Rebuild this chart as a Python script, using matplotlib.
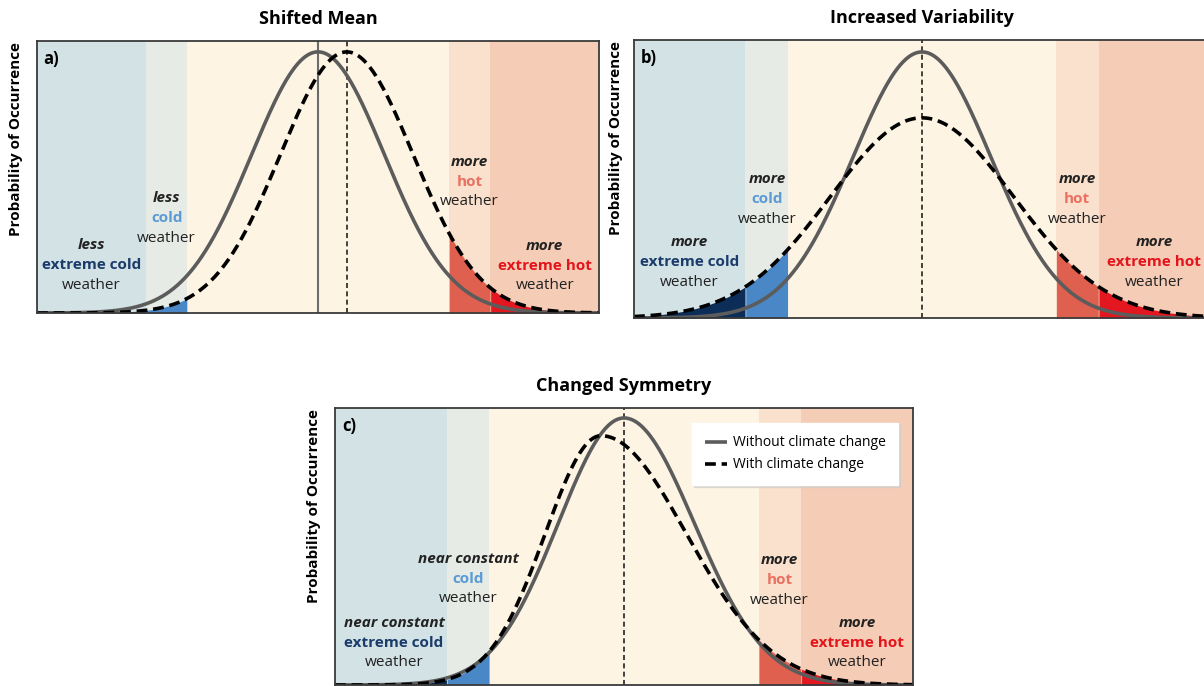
import numpy as np
import matplotlib
matplotlib.use("Agg")
import matplotlib.pyplot as plt
from matplotlib import font_manager

# pick a narrow font if the box has one
names = {f.name for f in font_manager.fontManager.ttflist}
if "Liberation Sans Narrow" in names:
    plt.rcParams['font.family'] = ['Liberation Sans Narrow', 'DejaVu Sans']
else:
    plt.rcParams['font.family'] = ['Open Sans', 'DejaVu Sans']

W, H = 1204, 686

# ---- data (x in temperature units, peak as fraction of panel height) ----
panel_titles = ["Shifted Mean", "Increased Variability", "Changed Symmetry"]
panel_letters = ["a)", "b)", "c)"]
x_limit = 4.4
band_edges = [-x_limit, -2.7, -2.05, 2.05, 2.7, x_limit]
band_colors = ["#d3e2e5", "#e6ebe6", "#fdf4e4", "#f9e1cd", "#f5ccb5"]
fill_colors = ["#0c2d57", "#4a87c6", None, "#e0604f", "#e2171f"]

# each curve: mode, sigma left, sigma right, peak height
without_a = (0.0, 1.04, 1.04, 0.96)
with_a = (0.45, 1.04, 1.04, 0.96)
without_b = (0.0, 1.05, 1.05, 0.957)
with_b = (0.0, 1.4, 1.4, 0.72)
without_c = (0.0, 1.0, 1.07, 0.964)
with_c = (-0.35, 0.85, 1.3, 0.90)

# vertical reference lines: (x, style)
vlines_a = [(0.0, 'solid'), (0.45, 'dashed')]
vlines_b = [(0.0, 'dashed')]
vlines_c = [(0.0, 'dashed')]

# labels: (band center x, colored-line y frac, top word, key word, key color)
labels_a = [(-3.55, 0.176, "less", "extreme cold", "#1b3c6b"),
            (-2.37, 0.349, "less", "cold", "#5b9bd5"),
            (2.37, 0.482, "more", "hot", "#ea7061"),
            (3.55, 0.173, "more", "extreme hot", "#e3141c")]
labels_b = [(-3.55, 0.201, "more", "extreme cold", "#1b3c6b"),
            (-2.37, 0.428, "more", "cold", "#5b9bd5"),
            (2.37, 0.428, "more", "hot", "#ea7061"),
            (3.55, 0.201, "more", "extreme hot", "#e3141c")]
labels_c = [(-3.5, 0.152, "near constant", "extreme cold", "#1b3c6b"),
            (-2.37, 0.383, "near constant", "cold", "#5b9bd5"),
            (2.37, 0.379, "more", "hot", "#ea7061"),
            (3.55, 0.152, "more", "extreme hot", "#e3141c")]


def curve(x, p):
    mode, sl, sr, peak = p
    s = np.where(x < mode, sl, sr)
    return peak * np.exp(-(x - mode) ** 2 / (2 * s ** 2))


def px_axes(left, top, right, bottom):
    return fig.add_axes([left / W, 1 - bottom / H, (right - left) / W, (bottom - top) / H])


fig = plt.figure(figsize=(W / 100, H / 100), dpi=100)

panels = [
    (px_axes(37, 41, 599, 313), without_a, with_a, vlines_a, labels_a),
    (px_axes(634, 40, 1210, 318), without_b, with_b, vlines_b, labels_b),
    (px_axes(335, 408, 913, 685), without_c, with_c, vlines_c, labels_c),
]

x = np.linspace(-x_limit, x_limit, 800)

for i, (ax, p0, p1, vl, labs) in enumerate(panels):
    ax.set_xlim(-x_limit, x_limit)
    ax.set_ylim(0, 1)
    for j in range(5):
        ax.axvspan(band_edges[j], band_edges[j + 1], color=band_colors[j], lw=0, zorder=0)
        if fill_colors[j]:
            m = (x >= band_edges[j]) & (x <= band_edges[j + 1])
            ax.fill_between(x[m], 0, curve(x[m], p1), color=fill_colors[j], lw=0, zorder=1)
    for xv, st in vl:
        if st == 'solid':
            ax.axvline(xv, color="#6b6b6b", lw=1.5, zorder=2)
        else:
            ax.axvline(xv, color="#222222", lw=1.2, ls=(0, (3, 2)), zorder=2)
    ax.plot(x, curve(x, p0), color="#5c5c5c", lw=2.6, zorder=3, solid_capstyle='butt',
            label="Without climate change")
    ax.plot(x, curve(x, p1), color="black", lw=2.6, ls=(0, (3, 1.6)), zorder=4,
            label="With climate change")
    for spine in ax.spines.values():
        spine.set_color("#3a3a3a")
        spine.set_linewidth(1.3)
        spine.set_zorder(5)
    ax.set_xticks([])
    ax.set_yticks([])
    ax.set_title(panel_titles[i], fontsize=13, fontweight='bold', pad=12)
    ax.text(0.012, 0.968, panel_letters[i], transform=ax.transAxes, fontsize=12,
            fontweight='bold', va='top', ha='left', zorder=6)
    ax.text(-0.037 if i != 1 else -0.031, 0.995, "Probability of Occurrence",
            transform=ax.transAxes, rotation=90, fontsize=11, fontweight='bold',
            va='top', ha='center')
    for bx, by, top, key, kc in labs:
        kw = dict(xycoords=('data', 'axes fraction'), textcoords='offset points',
                  ha='center', va='center', zorder=7, fontsize=11)
        ax.annotate(top, (bx, by), xytext=(0, 14.4), fontstyle='italic',
                    fontweight='bold', color="#222222", **kw)
        ax.annotate(key, (bx, by), xytext=(0, 0), fontweight='bold', color=kc, **kw)
        ax.annotate("weather", (bx, by), xytext=(0, -14.4), color="#222222", **kw)

    if i == 2:
        leg = ax.legend(loc='upper right', bbox_to_anchor=(0.974, 0.946), borderaxespad=0,
                        fontsize=10, frameon=True, fancybox=False, handlelength=1.6,
                        borderpad=0.9, labelspacing=0.5, handletextpad=0.4,
                        shadow={'ox': 1.5, 'oy': -1.5, 'color': '#cccccc', 'alpha': 0.6})
        leg.get_frame().set_edgecolor('white')
        leg.set_zorder(8)

fig.savefig("out.png", dpi=100)
